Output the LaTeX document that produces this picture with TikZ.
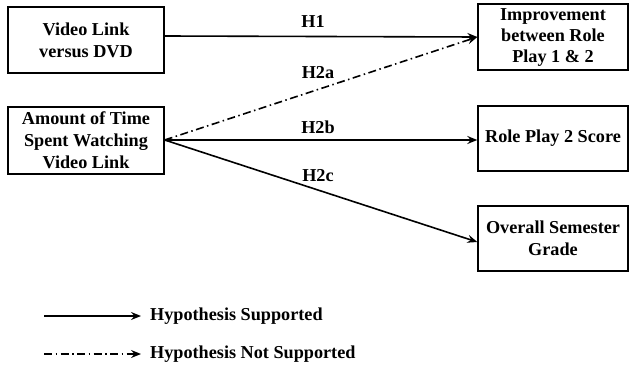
\documentclass[tikz,border=0pt]{standalone}
\usepackage{fontspec}
\setmainfont{Liberation Serif}
\usetikzlibrary{arrows.meta,calc}
\begin{document}
\begin{tikzpicture}[x=1pt,y=-1pt,
  txt/.style={font=\fontsize{18.2}{22}\selectfont\bfseries},
  box/.style={txt, draw, line width=1.4pt, align=center, inner sep=0pt, minimum width=152pt, minimum height=65pt},
  arr/.style={line width=1.6pt, -{Stealth[length=10pt,width=8pt,inset=3.5pt]}},
  dashdot/.style={dash pattern=on 8pt off 3.5pt on 1.5pt off 3.5pt}]
\useasboundingbox (0,0) rectangle (629,369);
\node[box, minimum width=156pt, minimum height=66pt] (vl) at (86,40) {Video Link\\versus DVD};
\node[box, minimum width=156pt, minimum height=67pt] (tm) at (86,140.5) {Amount of Time\\Spent Watching\\Video Link};
\node[box, minimum width=150pt, minimum height=66pt] (im) at (553,37) {\raisebox{-3pt}{\begin{tabular}{@{}c@{}}Improvement\\[-1pt]between Role\\[-1pt]Play 1 \& 2\end{tabular}}};
\node[box, minimum width=150pt, minimum height=65pt] (rp) at (553,138.5) {Role Play 2 Score};
\node[box, minimum width=150pt, minimum height=65pt] (og) at (553,238.5) {Overall Semester\\Grade};
\coordinate (src) at ($(tm.east)+(0,-0.5)$);
\draw[arr] ($(vl.east)+(0,-4)$) -- (im.west);
\draw[arr, dashdot] (src) -- (im.west);
\draw[arr] (src) -- (rp.west |- src);
\draw[arr] (src) -- ($(og.west)+(0,3.5)$);
\node[txt] (h1) at (313,21) {H1};
\node[txt] (h2a) at (318,73) {H2a};
\node[txt] (h2b) at (318,127) {H2b};
\node[txt] (h2c) at (318,176) {H2c};
\coordinate (l1s) at (44,316);
\coordinate (l2s) at (44,354);
\node[txt, anchor=west, inner sep=0pt] (ls) at (150,316) {Hypothesis Supported};
\node[txt, anchor=west, inner sep=0pt] (ln) at (150,354) {Hypothesis Not Supported};
\draw[arr] (l1s) -- ($(ls.west)+(-9,0)$);
\draw[arr, dashdot] (l2s) -- ($(ln.west)+(-9,0)$);
\end{tikzpicture}
\end{document}
